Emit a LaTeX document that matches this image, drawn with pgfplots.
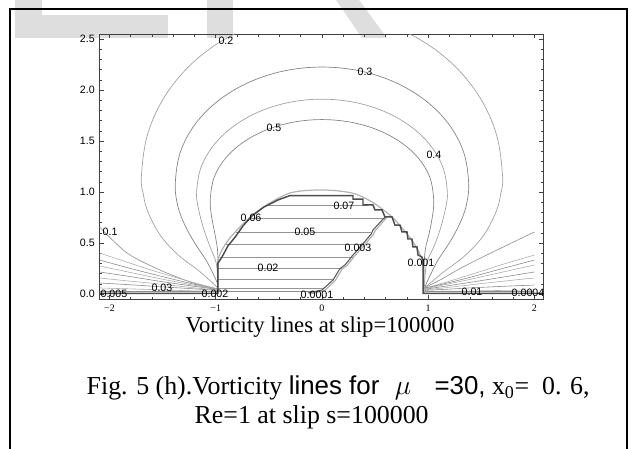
\documentclass[border=0pt]{standalone}
\usepackage{pgfplots}
\pgfplotsset{compat=1.18}
\usepackage{fontspec}
\setmainfont{Liberation Serif}
\newfontfamily\arial{Liberation Sans}
\pgfplotsset{
  arcA/.style={black!38, line width=0.5pt, smooth, tension=0.6},
  arcB/.style={black!50, line width=0.5pt, smooth, tension=0.6},
  fanA/.style={black!45, line width=0.45pt, smooth, tension=0.5},
  fanB/.style={black!32, line width=0.45pt, smooth, tension=0.5},
  inner/.style={black!42, line width=0.45pt},
}
\tikzset{clab/.style={font=\arial\fontsize{8}{9}\selectfont, inner sep=0pt}}
\begin{document}
\begin{tikzpicture}
\begin{scope}[x=0.75pt,y=-0.75pt]
\useasboundingbox (0,0) rectangle (629,449);
% watermark remains
\fill[black!13] (15,0) rectangle (42,38);
\fill[black!13] (42,15) rectangle (168,38);
\fill[black!13] (207,0) rectangle (233,38);
\fill[black!13] (336,0) -- (359,0) -- (387,38) -- (362,38) -- cycle;
% page frame
\draw[line width=1.5pt] (9.5,449) -- (9.5,9.5) -- (627,9.5) -- (627,449);
\node[anchor=base, font=\fontsize{17}{20}\selectfont] at (320,333) {Vorticity lines at slip=100000};
\node[anchor=base west, font=\fontsize{19.4}{23}\selectfont] at (82,394)
  {Fig. 5 (h).Vorticity {\arial lines for}\hspace{0.6em}$\mu$\hspace{0.9em}{\arial =30,} x\textsubscript{0}=\hspace{0.5em}0. 6,};
\node[anchor=base west, font=\fontsize{19.4}{23}\selectfont] at (190,423) {Re=1 at slip s=100000};
\end{scope}
\begin{axis}[
  at={(74.625pt,-224.625pt)}, anchor=south west,
  scale only axis, width=332.6pt, height=198.75pt,
  xmin=-2.094, xmax=2.08, ymin=-0.054, ymax=2.544,
  xtick={-2,-1,0,1,2}, xticklabels={−2,−1,0,1,2},
  ytick={0,0.5,1,1.5,2,2.5}, yticklabels={0.0,0.5,1.0,1.5,2.0,2.5},
  minor x tick num=4, minor y tick num=4,
  major tick length=3pt, minor tick length=1.7pt,
  axis line style={black!75, line width=0.6pt},
  every tick/.style={black!75, line width=0.4pt},
  xticklabel style={font=\fontsize{7.5}{8}\selectfont, yshift=-0.5pt},
  yticklabel style={font=\arial\fontsize{8}{9}\selectfont},
  clip mode=individual,
  no markers,
]
% outer arcs
\addplot[arcA] coordinates {(-0.98,0.06) (-1.15,0.22) (-1.35,0.38) (-1.525,0.58) (-1.64,0.81) (-1.68,0.97) (-1.70,1.15) (-1.642,1.564) (-1.472,1.95) (-1.202,2.281) (-0.85,2.536) (-0.44,2.695) (0,2.75) (0.44,2.695) (0.85,2.536) (1.202,2.281) (1.472,1.95) (1.642,1.564) (1.70,1.15) (1.68,0.97) (1.64,0.81) (1.525,0.58) (1.35,0.38) (1.15,0.22) (0.965,0.06)};
\addplot[arcB] coordinates {(-0.98,0.06) (-0.99,0.12) (-1.085,0.32) (-1.21,0.52) (-1.31,0.72) (-1.365,0.9) (-1.38,1.1) (-1.333,1.391) (-1.195,1.663) (-0.976,1.895) (-0.69,2.074) (-0.357,2.187) (0,2.225) (0.357,2.187) (0.69,2.074) (0.976,1.895) (1.195,1.663) (1.333,1.391) (1.38,1.1) (1.365,0.9) (1.31,0.72) (1.21,0.52) (1.085,0.32) (0.99,0.12) (0.965,0.06)};
\addplot[arcA] coordinates {(-0.98,0.07) (-0.995,0.3) (-1.06,0.48) (-1.12,0.66) (-1.165,0.85) (-1.18,1.0) (-1.14,1.236) (-1.022,1.455) (-0.834,1.643) (-0.59,1.788) (-0.305,1.879) (0,1.91) (0.305,1.879) (0.59,1.788) (0.834,1.643) (1.022,1.455) (1.14,1.236) (1.18,1.0) (1.165,0.85) (1.12,0.66) (1.06,0.48) (0.985,0.3) (0.965,0.07)};
\addplot[arcB] coordinates {(-0.98,0.07) (-0.978,0.3) (-0.985,0.45) (-1.01,0.6) (-1.045,0.8) (-1.05,0.95) (-1.014,1.147) (-0.909,1.33) (-0.742,1.487) (-0.525,1.608) (-0.272,1.684) (0,1.71) (0.272,1.684) (0.525,1.608) (0.742,1.487) (0.909,1.33) (1.014,1.147) (1.05,0.95) (1.045,0.8) (1.01,0.6) (0.975,0.45) (0.962,0.3) (0.96,0.07)};
% left fan
\addplot[fanA] coordinates {(-2.094,0.657) (-1.835,0.402) (-1.525,0.235) (-1.214,0.108) (-0.985,0.05)};
\addplot[fanB] coordinates {(-2.094,0.402) (-1.8,0.3) (-1.5,0.2) (-1.2,0.11) (-0.985,0.05)};
\addplot[fanA] coordinates {(-2.094,0.333) (-1.8,0.25) (-1.5,0.17) (-1.2,0.095) (-0.985,0.05)};
\addplot[fanB] coordinates {(-2.094,0.275) (-1.8,0.21) (-1.5,0.145) (-1.2,0.085) (-0.985,0.05)};
\addplot[fanA] coordinates {(-2.094,0.216) (-1.8,0.17) (-1.5,0.12) (-1.2,0.075) (-0.985,0.045)};
\addplot[fanB] coordinates {(-2.094,0.157) (-1.8,0.125) (-1.5,0.095) (-1.2,0.06) (-0.985,0.04)};
\addplot[fanA] coordinates {(-2.094,0.108) (-1.8,0.09) (-1.5,0.07) (-1.2,0.05) (-0.985,0.035)};
\addplot[fanB] coordinates {(-2.094,0.059) (-1.8,0.05) (-1.5,0.04) (-1.2,0.03) (-0.985,0.025)};
\addplot[black!45, line width=0.5pt] coordinates {(-2.094,0.025) (-0.98,0.025)};
% right fan
\addplot[fanA] coordinates {(2.0,0.608) (1.647,0.431) (1.327,0.265) (1.111,0.137) (0.96,0.06)};
\addplot[fanB] coordinates {(2.0,0.382) (1.7,0.29) (1.4,0.19) (1.15,0.11) (0.96,0.055)};
\addplot[fanA] coordinates {(2.0,0.333) (1.7,0.25) (1.4,0.165) (1.15,0.1) (0.96,0.055)};
\addplot[fanB] coordinates {(2.0,0.284) (1.7,0.215) (1.4,0.145) (1.15,0.09) (0.96,0.05)};
\addplot[fanA] coordinates {(2.0,0.216) (1.7,0.165) (1.4,0.115) (1.15,0.075) (0.96,0.045)};
\addplot[fanB] coordinates {(2.0,0.157) (1.7,0.125) (1.4,0.09) (1.15,0.06) (0.96,0.04)};
\addplot[fanA] coordinates {(2.0,0.088) (1.7,0.075) (1.4,0.06) (1.15,0.045) (0.96,0.035)};
\addplot[fanB] coordinates {(2.0,0.039) (1.7,0.035) (1.4,0.03) (1.15,0.027) (0.96,0.025)};
\addplot[black!45, line width=0.5pt] coordinates {(0.96,0.025) (2.0,0.025)};
% horizontal lines inside the body
\addplot[inner] coordinates {(-0.51,0.873) (0.43,0.873)};
\addplot[inner] coordinates {(-0.68,0.745) (0.6,0.745)};
\addplot[inner] coordinates {(-0.813,0.608) (0.465,0.608)};
\addplot[inner] coordinates {(-0.905,0.49) (0.382,0.49)};
\addplot[inner] coordinates {(-0.96,0.363) (0.3,0.363)};
\addplot[inner] coordinates {(-0.979,0.255) (0.2,0.255)};
\addplot[inner] coordinates {(-0.979,0.147) (0.11,0.147)};
\addplot[inner] coordinates {(-0.979,0.059) (0.02,0.059)};
\addplot[black!45, line width=0.5pt] coordinates {(-0.979,0.03) (-0.05,0.03)};
% light body outline
\addplot[black!30, line width=0.9pt, smooth, tension=0.5] coordinates {(-0.979,0.01) (-0.979,0.314) (-0.941,0.431) (-0.866,0.549) (-0.725,0.706) (-0.565,0.843) (-0.301,0.99) (0,1.02) (0.282,0.99) (0.471,0.902) (0.659,0.755) (0.809,0.578) (0.904,0.431) (0.951,0.284) (0.96,0.01)};
% right boundary of the inner region
\addplot[black!30, line width=0.9pt] coordinates {(0.61,0.75) (0.5,0.62) (0.485,0.585) (0.395,0.475) (0.31,0.375) (0.235,0.28) (0.19,0.245) (0.124,0.13) (0.02,0.03) (-0.12,0.0)};
\addplot[black!65, line width=0.8pt] coordinates {(0.593,0.755) (0.48,0.627) (0.465,0.59) (0.376,0.48) (0.292,0.382) (0.216,0.284) (0.17,0.25) (0.104,0.137) (0,0.039) (-0.132,0.01)};
% dark body outline
\addplot[black!70, line width=1.1pt] coordinates {(-2.094,0.005) (-0.979,0.005) (-0.979,0.304) (-0.941,0.363) (-0.885,0.471) (-0.809,0.569) (-0.744,0.667) (-0.659,0.765) (-0.546,0.853) (-0.414,0.922) (-0.301,0.965) (0.292,0.965) (0.292,0.931) (0.386,0.931) (0.386,0.873) (0.48,0.873) (0.499,0.824) (0.565,0.824) (0.593,0.755) (0.659,0.755) (0.687,0.676) (0.734,0.676) (0.753,0.608) (0.8,0.608) (0.809,0.539) (0.847,0.539) (0.856,0.461) (0.894,0.461) (0.904,0.382) (0.941,0.363) (0.951,0.333) (0.951,0.005) (2.08,0.005)};
% contour labels
\node[clab] at (axis cs:-0.904,2.48) {0.2};
\node[clab] at (axis cs:0.405,2.176) {0.3};
\node[clab] at (axis cs:-0.452,1.627) {0.5};
\node[clab] at (axis cs:1.054,1.363) {0.4};
\node[clab] at (axis cs:-1.995,0.608) {0.1};
\node[clab] at (axis cs:-1.506,0.059) {0.03};
\node[clab] at (axis cs:-1.958,0.0) {0.005};
\node[clab] at (axis cs:-1.007,0.0) {0.002};
\node[clab] at (axis cs:-0.047,-0.01) {0.0001};
\node[clab] at (axis cs:1.412,0.02) {0.01};
\node[clab] at (axis cs:1.939,0.01) {0.0004};
\node[clab] at (axis cs:0.932,0.304) {0.001};
\node[clab] at (axis cs:0.339,0.451) {0.003};
\node[clab] at (axis cs:-0.16,0.608) {0.05};
\node[clab] at (axis cs:-0.668,0.745) {0.06};
\node[clab] at (axis cs:-0.508,0.255) {0.02};
\node[clab] at (axis cs:0.207,0.863) {0.07};
\end{axis}
\end{tikzpicture}
\end{document}
